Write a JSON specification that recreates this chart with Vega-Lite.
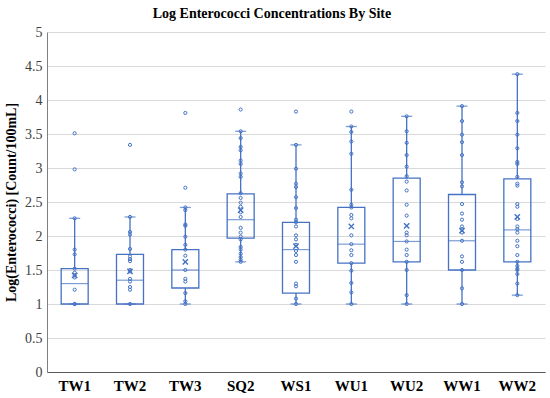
{
  "$schema": "https://vega.github.io/schema/vega-lite/v6.json",
  "autosize": {"type": "none"},
  "width": 498,
  "height": 340,
  "padding": {"left": 47, "top": 32, "right": 5, "bottom": 26},
  "title": {
    "text": "Log Enterococci Concentrations By Site",
    "font": "Liberation Serif",
    "fontSize": 14,
    "fontWeight": "bold",
    "color": "#000000",
    "anchor": "middle",
    "dx": -24,
    "offset": 4
  },
  "config": {
    "font": "Liberation Serif",
    "view": {"stroke": null},
    "axis": {"labelFont": "Liberation Serif", "titleFont": "Liberation Serif"},
    "axisY": {
      "gridColor": "#d9d9d9",
      "gridWidth": 1
    }
  },
  "datasets": {
    "summary": [
      {"site": "TW1", "lower": 1.0, "q1": 1.0, "median": 1.30, "q3": 1.52, "upper": 2.26, "mean": 1.42},
      {"site": "TW2", "lower": 1.0, "q1": 1.0, "median": 1.35, "q3": 1.73, "upper": 2.28, "mean": 1.48},
      {"site": "TW3", "lower": 1.0, "q1": 1.235, "median": 1.50, "q3": 1.80, "upper": 2.42, "mean": 1.62},
      {"site": "SQ2", "lower": 1.62, "q1": 1.97, "median": 2.24, "q3": 2.62, "upper": 3.54, "mean": 2.38},
      {"site": "WS1", "lower": 1.0, "q1": 1.16, "median": 1.80, "q3": 2.20, "upper": 3.34, "mean": 1.85},
      {"site": "WU1", "lower": 1.0, "q1": 1.60, "median": 1.88, "q3": 2.42, "upper": 3.61, "mean": 2.14},
      {"site": "WU2", "lower": 1.0, "q1": 1.62, "median": 1.92, "q3": 2.85, "upper": 3.76, "mean": 2.15},
      {"site": "WW1", "lower": 1.0, "q1": 1.50, "median": 1.93, "q3": 2.61, "upper": 3.91, "mean": 2.08},
      {"site": "WW2", "lower": 1.13, "q1": 1.62, "median": 2.09, "q3": 2.84, "upper": 4.38, "mean": 2.28}
    ],
    "points": [
      {"site": "TW1", "value": 3.51}, {"site": "TW1", "value": 2.98}, {"site": "TW1", "value": 2.26}, {"site": "TW1", "value": 1.80}, {"site": "TW1", "value": 1.73}, {"site": "TW1", "value": 1.52}, {"site": "TW1", "value": 1.46}, {"site": "TW1", "value": 1.42}, {"site": "TW1", "value": 1.39}, {"site": "TW1", "value": 1.21}, {"site": "TW1", "value": 1.0}, {"site": "TW1", "value": 1.0},
      {"site": "TW2", "value": 3.34}, {"site": "TW2", "value": 2.28}, {"site": "TW2", "value": 2.06}, {"site": "TW2", "value": 2.02}, {"site": "TW2", "value": 1.81}, {"site": "TW2", "value": 1.70}, {"site": "TW2", "value": 1.66}, {"site": "TW2", "value": 1.63}, {"site": "TW2", "value": 1.50}, {"site": "TW2", "value": 1.48}, {"site": "TW2", "value": 1.37}, {"site": "TW2", "value": 1.33}, {"site": "TW2", "value": 1.25}, {"site": "TW2", "value": 1.21}, {"site": "TW2", "value": 1.0},
      {"site": "TW3", "value": 3.81}, {"site": "TW3", "value": 2.71}, {"site": "TW3", "value": 2.42}, {"site": "TW3", "value": 2.38}, {"site": "TW3", "value": 2.17}, {"site": "TW3", "value": 2.15}, {"site": "TW3", "value": 1.99}, {"site": "TW3", "value": 1.87}, {"site": "TW3", "value": 1.80}, {"site": "TW3", "value": 1.71}, {"site": "TW3", "value": 1.50}, {"site": "TW3", "value": 1.37}, {"site": "TW3", "value": 1.33}, {"site": "TW3", "value": 1.16}, {"site": "TW3", "value": 1.04}, {"site": "TW3", "value": 1.0},
      {"site": "SQ2", "value": 3.86}, {"site": "SQ2", "value": 3.54}, {"site": "SQ2", "value": 3.44}, {"site": "SQ2", "value": 3.31}, {"site": "SQ2", "value": 3.26}, {"site": "SQ2", "value": 3.11}, {"site": "SQ2", "value": 3.06}, {"site": "SQ2", "value": 2.92}, {"site": "SQ2", "value": 2.87}, {"site": "SQ2", "value": 2.63}, {"site": "SQ2", "value": 2.56}, {"site": "SQ2", "value": 2.49}, {"site": "SQ2", "value": 2.43}, {"site": "SQ2", "value": 2.35}, {"site": "SQ2", "value": 2.28}, {"site": "SQ2", "value": 2.12}, {"site": "SQ2", "value": 2.05}, {"site": "SQ2", "value": 1.99}, {"site": "SQ2", "value": 1.95}, {"site": "SQ2", "value": 1.84}, {"site": "SQ2", "value": 1.80}, {"site": "SQ2", "value": 1.74}, {"site": "SQ2", "value": 1.69}, {"site": "SQ2", "value": 1.65}, {"site": "SQ2", "value": 1.62},
      {"site": "WS1", "value": 3.83}, {"site": "WS1", "value": 3.34}, {"site": "WS1", "value": 2.99}, {"site": "WS1", "value": 2.77}, {"site": "WS1", "value": 2.72}, {"site": "WS1", "value": 2.57}, {"site": "WS1", "value": 2.41}, {"site": "WS1", "value": 2.24}, {"site": "WS1", "value": 2.20}, {"site": "WS1", "value": 2.14}, {"site": "WS1", "value": 2.01}, {"site": "WS1", "value": 1.95}, {"site": "WS1", "value": 1.87}, {"site": "WS1", "value": 1.78}, {"site": "WS1", "value": 1.72}, {"site": "WS1", "value": 1.62}, {"site": "WS1", "value": 1.30}, {"site": "WS1", "value": 1.26}, {"site": "WS1", "value": 1.08}, {"site": "WS1", "value": 1.0},
      {"site": "WU1", "value": 3.83}, {"site": "WU1", "value": 3.61}, {"site": "WU1", "value": 3.53}, {"site": "WU1", "value": 3.39}, {"site": "WU1", "value": 3.21}, {"site": "WU1", "value": 2.68}, {"site": "WU1", "value": 2.46}, {"site": "WU1", "value": 2.42}, {"site": "WU1", "value": 2.31}, {"site": "WU1", "value": 2.26}, {"site": "WU1", "value": 2.01}, {"site": "WU1", "value": 1.88}, {"site": "WU1", "value": 1.79}, {"site": "WU1", "value": 1.72}, {"site": "WU1", "value": 1.60}, {"site": "WU1", "value": 1.49}, {"site": "WU1", "value": 1.31}, {"site": "WU1", "value": 1.17}, {"site": "WU1", "value": 1.0},
      {"site": "WU2", "value": 3.76}, {"site": "WU2", "value": 3.54}, {"site": "WU2", "value": 3.37}, {"site": "WU2", "value": 3.19}, {"site": "WU2", "value": 3.02}, {"site": "WU2", "value": 2.88}, {"site": "WU2", "value": 2.80}, {"site": "WU2", "value": 2.67}, {"site": "WU2", "value": 2.46}, {"site": "WU2", "value": 2.30}, {"site": "WU2", "value": 2.05}, {"site": "WU2", "value": 2.01}, {"site": "WU2", "value": 1.92}, {"site": "WU2", "value": 1.80}, {"site": "WU2", "value": 1.72}, {"site": "WU2", "value": 1.62}, {"site": "WU2", "value": 1.50}, {"site": "WU2", "value": 1.13}, {"site": "WU2", "value": 1.0},
      {"site": "WW1", "value": 3.91}, {"site": "WW1", "value": 3.69}, {"site": "WW1", "value": 3.49}, {"site": "WW1", "value": 3.38}, {"site": "WW1", "value": 3.19}, {"site": "WW1", "value": 2.79}, {"site": "WW1", "value": 2.73}, {"site": "WW1", "value": 2.47}, {"site": "WW1", "value": 2.33}, {"site": "WW1", "value": 2.24}, {"site": "WW1", "value": 2.14}, {"site": "WW1", "value": 2.10}, {"site": "WW1", "value": 2.05}, {"site": "WW1", "value": 1.93}, {"site": "WW1", "value": 1.70}, {"site": "WW1", "value": 1.62}, {"site": "WW1", "value": 1.50}, {"site": "WW1", "value": 1.23}, {"site": "WW1", "value": 1.0},
      {"site": "WW2", "value": 4.38}, {"site": "WW2", "value": 3.81}, {"site": "WW2", "value": 3.69}, {"site": "WW2", "value": 3.49}, {"site": "WW2", "value": 3.29}, {"site": "WW2", "value": 3.09}, {"site": "WW2", "value": 3.06}, {"site": "WW2", "value": 2.87}, {"site": "WW2", "value": 2.77}, {"site": "WW2", "value": 2.74}, {"site": "WW2", "value": 2.47}, {"site": "WW2", "value": 2.43}, {"site": "WW2", "value": 2.25}, {"site": "WW2", "value": 2.14}, {"site": "WW2", "value": 2.10}, {"site": "WW2", "value": 2.05}, {"site": "WW2", "value": 1.93}, {"site": "WW2", "value": 1.85}, {"site": "WW2", "value": 1.72}, {"site": "WW2", "value": 1.62}, {"site": "WW2", "value": 1.56}, {"site": "WW2", "value": 1.52}, {"site": "WW2", "value": 1.50}, {"site": "WW2", "value": 1.44}, {"site": "WW2", "value": 1.30}, {"site": "WW2", "value": 1.13}
    ]
  },
  "encoding": {
    "x": {
      "field": "site",
      "type": "nominal",
      "sort": ["TW1", "TW2", "TW3", "SQ2", "WS1", "WU1", "WU2", "WW1", "WW2"],
      "scale": {"paddingInner": 0, "paddingOuter": 0},
      "title": null,
      "axis": {
        "labelFont": "Liberation Serif",
        "labelFontSize": 15,
        "labelFontWeight": "bold",
        "labelColor": "#000000",
        "labelAngle": 0,
        "labelPadding": 6,
        "ticks": false,
        "domainColor": "#595959",
        "domainWidth": 1.2,
        "grid": false
      }
    }
  },
  "layer": [
    {
      "data": {"name": "summary"},
      "mark": {"type": "rule", "color": "#4472C4", "strokeWidth": 1.3},
      "encoding": {
        "y": {
          "field": "lower", "type": "quantitative", "scale": {"domain": [0, 5]},
          "title": "Log(Enterococci) [Count/100mL]",
          "axis": {
            "tickCount": 10, "format": ".1~f",
            "labelFont": "Liberation Serif", "labelFontSize": 14, "labelColor": "#404040", "labelPadding": 5,
            "ticks": false, "domainColor": "#7f7f7f", "grid": true,
            "titleFont": "Liberation Serif", "titleFontSize": 14, "titleFontWeight": "bold", "titleColor": "#000000", "titlePadding": 6
          }
        },
        "y2": {"field": "q1"}
      }
    },
    {
      "data": {"name": "summary"},
      "mark": {"type": "rule", "color": "#4472C4", "strokeWidth": 1.3},
      "encoding": {
        "y": {"field": "q3", "type": "quantitative", "title": "Log(Enterococci) [Count/100mL]"},
        "y2": {"field": "upper"}
      }
    },
    {
      "data": {"name": "summary"},
      "mark": {"type": "tick", "color": "#4472C4", "size": 11, "thickness": 1.3, "orient": "horizontal"},
      "encoding": {
        "y": {"field": "lower", "type": "quantitative", "title": "Log(Enterococci) [Count/100mL]"}
      }
    },
    {
      "data": {"name": "summary"},
      "mark": {"type": "tick", "color": "#4472C4", "size": 11, "thickness": 1.3, "orient": "horizontal"},
      "encoding": {
        "y": {"field": "upper", "type": "quantitative", "title": "Log(Enterococci) [Count/100mL]"}
      }
    },
    {
      "data": {"name": "summary"},
      "mark": {"type": "bar", "fill": "#ffffff", "fillOpacity": 0, "stroke": "#4472C4", "strokeWidth": 1.3, "size": 27},
      "encoding": {
        "y": {"field": "q1", "type": "quantitative", "title": "Log(Enterococci) [Count/100mL]"},
        "y2": {"field": "q3"}
      }
    },
    {
      "data": {"name": "summary"},
      "mark": {"type": "tick", "color": "#4472C4", "size": 27, "thickness": 1.2, "orient": "horizontal"},
      "encoding": {
        "y": {"field": "median", "type": "quantitative", "title": "Log(Enterococci) [Count/100mL]"}
      }
    },
    {
      "data": {"name": "points"},
      "mark": {"type": "point", "shape": "circle", "filled": false, "color": "#4472C4", "size": 10, "strokeWidth": 1, "opacity": 1},
      "encoding": {
        "y": {"field": "value", "type": "quantitative", "title": "Log(Enterococci) [Count/100mL]"}
      }
    },
    {
      "data": {"name": "summary"},
      "mark": {"type": "point", "shape": "M-1,-1L1,1M-1,1L1,-1", "filled": false, "color": "#4472C4", "size": 28, "strokeWidth": 1.4, "opacity": 1},
      "encoding": {
        "y": {"field": "mean", "type": "quantitative", "title": "Log(Enterococci) [Count/100mL]"}
      }
    }
  ]
}
